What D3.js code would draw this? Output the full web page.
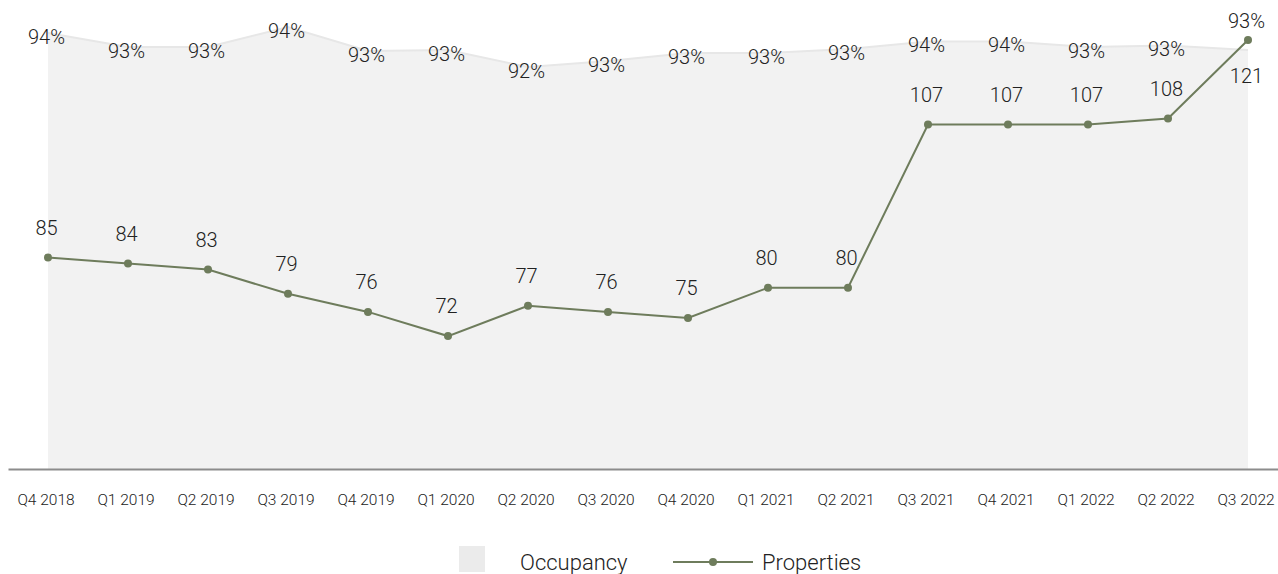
<!DOCTYPE html>
<html>
<head>
<meta charset="utf-8">
<script src="https://cdn.jsdelivr.net/npm/d3@7/dist/d3.min.js"></script>
<style>
  html, body { margin: 0; padding: 0; background: #ffffff; }
  svg { display: block; }
  text { font-family: Roboto, "Open Sans", sans-serif; font-weight: 300; fill: #222; }
</style>
</head>
<body>
<svg id="chart" width="1278" height="574"></svg>
<script>
const categories = ["Q4 2018","Q1 2019","Q2 2019","Q3 2019","Q4 2019","Q1 2020","Q2 2020","Q3 2020",
                    "Q4 2020","Q1 2021","Q2 2021","Q3 2021","Q4 2021","Q1 2022","Q2 2022","Q3 2022"];
const occupancy = [94.05, 93.35, 93.35, 94.35, 93.15, 93.2, 92.35, 92.65,
                   93.05, 93.05, 93.25, 93.63, 93.63, 93.35, 93.43, 93.2];
const properties = [85, 84, 83, 79, 76, 72, 77, 76, 75, 80, 80, 107, 107, 107, 108, 121];
const seriesNames = ["Occupancy", "Properties"];

const W = 1278, H = 574;
const baseY = 469;
const lineColor = "#6e7c5c";

const svg = d3.select("#chart");

const x = d3.scaleBand().domain(categories).range([8, 1288]).paddingInner(0).paddingOuter(0);
const cx = c => x(c) + x.bandwidth() / 2;

const yOcc = d3.scaleLinear().domain([72.25, 95.7]).range([baseY, 0]);
const yProp = d3.scaleLinear().domain([50, 121]).range([baseY, 40]);

const occData = categories.map((c, i) => ({c, v: occupancy[i], i}));
const propData = categories.map((c, i) => ({c, v: properties[i], i}));

// Occupancy area
svg.append("path")
  .datum(occData)
  .attr("fill", "#f2f2f2")
  .attr("d", d3.area().x(d => cx(d.c)).y0(baseY).y1(d => yOcc(d.v)));
svg.append("path")
  .datum(occData)
  .attr("fill", "none")
  .attr("stroke", "#e7e7e7")
  .attr("stroke-width", 2)
  .attr("d", d3.line().x(d => cx(d.c)).y(d => yOcc(d.v)));

// X axis
const axis = svg.append("g")
  .attr("transform", `translate(0,${baseY})`)
  .call(d3.axisBottom(x).tickSize(0).tickSizeOuter(0).tickPadding(25));
axis.select(".domain").attr("stroke", "#8c8c8c").attr("stroke-width", 2);
axis.selectAll("text")
  .attr("font-size", "15.5px")
  .attr("font-family", "Roboto, sans-serif")
  .attr("font-weight", 300)
  .attr("fill", "#222")
  .attr("dx", "-2px");

// Occupancy labels
const last = categories.length - 1;
svg.append("g").selectAll("text")
  .data(occData)
  .join("text")
  .attr("x", d => cx(d.c) - 1.5)
  .attr("y", d => d.i === last ? yOcc(d.v) - 22 : yOcc(d.v) + 11)
  .attr("text-anchor", "middle")
  .attr("font-size", "20px")
  .text(d => Math.round(d.v) + "%");

// Properties line
svg.append("path")
  .datum(propData)
  .attr("fill", "none")
  .attr("stroke", lineColor)
  .attr("stroke-width", 2)
  .attr("d", d3.line().x(d => cx(d.c)).y(d => yProp(d.v)));
svg.append("g").selectAll("circle")
  .data(propData)
  .join("circle")
  .attr("cx", d => cx(d.c))
  .attr("cy", d => yProp(d.v))
  .attr("r", 4)
  .attr("fill", lineColor);

svg.append("g").selectAll("text")
  .data(propData)
  .join("text")
  .attr("x", d => cx(d.c) - 1.5)
  .attr("y", d => d.i === last ? yProp(d.v) + 43 : yProp(d.v) - 23)
  .attr("text-anchor", "middle")
  .attr("font-size", "20px")
  .text(d => d.v);

// Legend
const lg = svg.append("g");
lg.append("rect").attr("x", 459).attr("y", 546).attr("width", 26).attr("height", 26).attr("fill", "#ebebeb");
lg.append("text").attr("x", 520).attr("y", 570).attr("font-size", "22px").text(seriesNames[0]);
lg.append("line").attr("x1", 673).attr("x2", 753).attr("y1", 562).attr("y2", 562)
  .attr("stroke", lineColor).attr("stroke-width", 2);
lg.append("circle").attr("cx", 713).attr("cy", 562).attr("r", 4).attr("fill", lineColor);
lg.append("text").attr("x", 762).attr("y", 570).attr("font-size", "22px").text(seriesNames[1]);
</script>
</body>
</html>
